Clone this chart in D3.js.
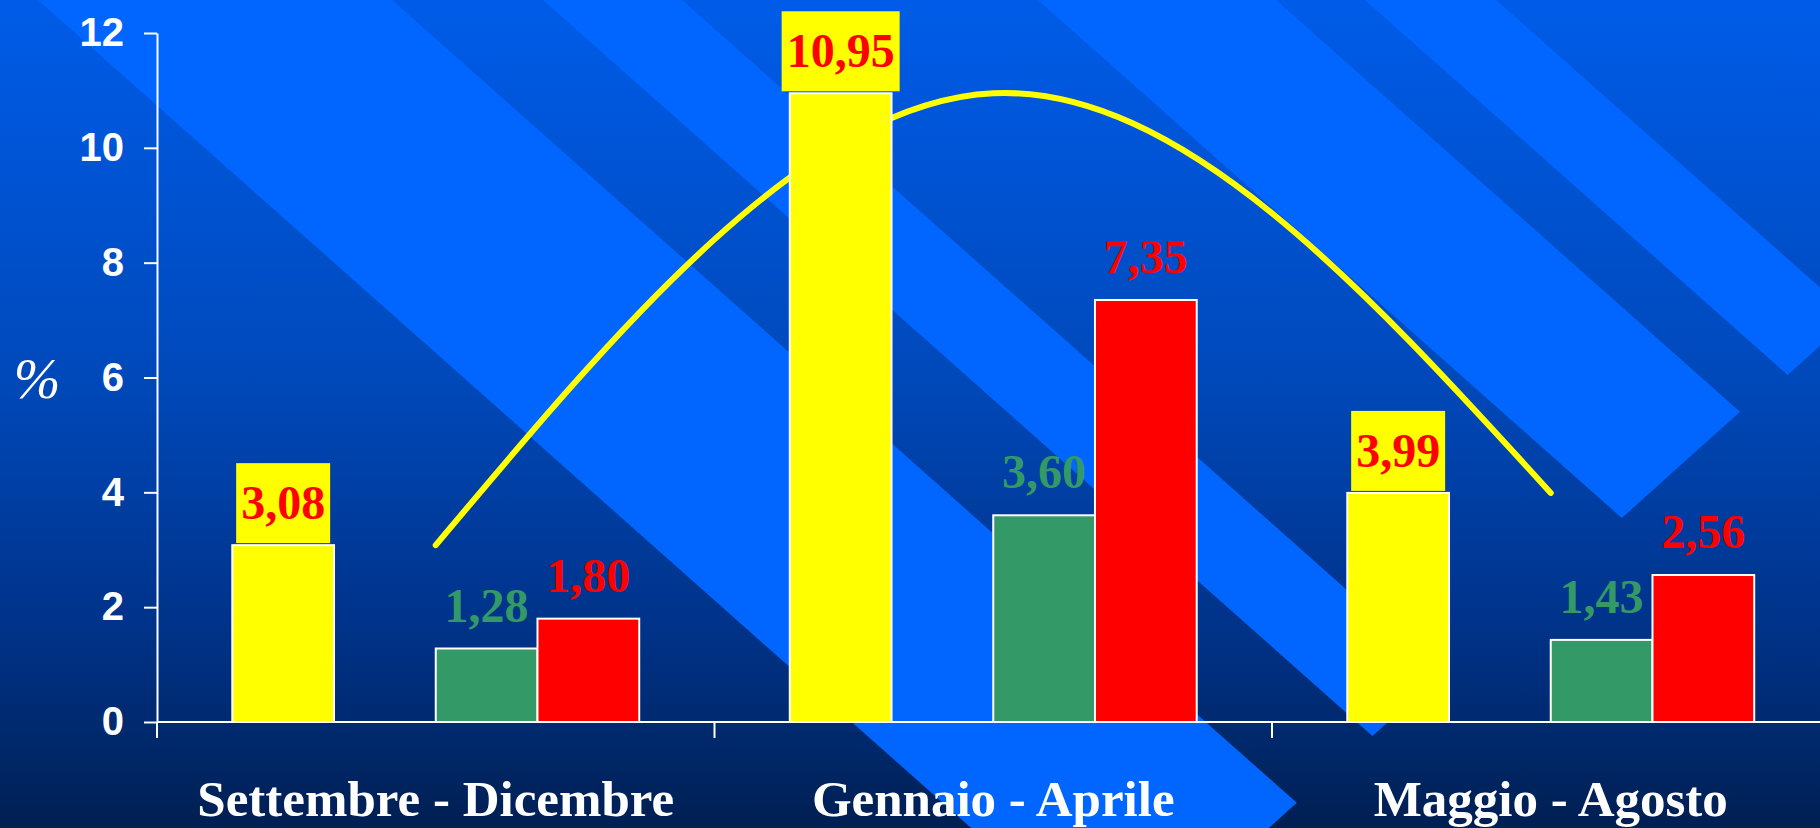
<!DOCTYPE html>
<html>
<head>
<meta charset="utf-8">
<script src="https://cdn.jsdelivr.net/npm/d3@7"></script>
<style>
  html, body { margin: 0; padding: 0; background: #003a96; }
  svg { display: block; }
</style>
</head>
<body>
<svg id="chart" width="1820" height="828"></svg>
<script>
const categories = ["Settembre - Dicembre", "Gennaio - Aprile", "Maggio - Agosto"]
const yellowValues = [3.08, 10.95, 3.99]
const greenValues = [1.28, 3.60, 1.43]
const redValues = [1.80, 7.35, 2.56]
const yTicks = [0, 2, 4, 6, 8, 10, 12]
const slots = ["yellow", "gap", "green", "red"]

// background stripes: x where each stripe meets the top edge, and y of its lowest corner
const stripes = [[38, 392, 961], [543, 682, 736], [1038, 1276, 518], [1365, 1496, 375]]

const W = 1820, H = 828
const svg = d3.select("#chart")

const comma = d3.formatLocale({decimal: ",", thousands: ".", grouping: [3], currency: ["", ""]}).format(".2f")

const x = d3.scaleBand().domain(categories).range([157, 157 + 3 * 557.5]).padding(0)
const sub = d3.scaleBand().domain(slots).range([0, x.bandwidth()]).paddingInner(0).paddingOuter(0.74)
const y = d3.scaleLinear().domain([0, 12]).range([722, 33])

// background
const defs = svg.append("defs")
const grad = defs.append("linearGradient").attr("id", "bg").attr("x1", 0).attr("y1", 0).attr("x2", 0).attr("y2", 1)
grad.selectAll("stop")
    .data([[0, "#005ce8"], [0.45, "#0049bb"], [0.75, "#00338a"], [0.9, "#00286a"], [1, "#001f52"]])
    .enter().append("stop")
    .attr("offset", d => d[0])
    .attr("stop-color", d => d[1])

svg.append("rect").attr("width", W).attr("height", H).attr("fill", "url(#bg)")

const s = 1.127, c = 0.9
svg.append("g").selectAll("polygon")
    .data(stripes)
    .enter().append("polygon")
    .attr("fill", "#0066ff")
    .attr("points", ([x0, x1, yt]) => {
        const xt = x0 + s * yt
        const u = (x1 - x0) / (1 + s * c)
        return [[x0 - s * 20, -20], [x1 - s * 20, -20], [xt + u, yt - c * u], [xt, yt]].map(p => p.join(",")).join(" ")
    })

// y axis
const yAxis = svg.append("g")
    .attr("transform", "translate(157,0)")
    .call(d3.axisLeft(y).tickValues(yTicks).tickFormat(d3.format("d")).tickSize(13).tickSizeOuter(0).tickPadding(20))
yAxis.select(".domain").attr("stroke", "#fff").attr("stroke-width", 2)
yAxis.selectAll(".tick line").attr("stroke", "#fff").attr("stroke-width", 2)
yAxis.selectAll(".tick text")
    .attr("fill", "#fff")
    .attr("font-family", "'Liberation Sans', Arial, sans-serif")
    .attr("font-weight", "bold")
    .attr("font-size", 40)

svg.append("text")
    .attr("x", 37).attr("y", 398)
    .attr("text-anchor", "middle")
    .attr("fill", "#fff")
    .attr("font-family", "'Liberation Serif', 'Times New Roman', serif")
    .attr("font-style", "italic")
    .attr("font-size", 56)
    .text("%")

// trend curve through the yellow values (drawn behind the bars)
const line = d3.line()
    .x((d, i) => x(categories[i]) + sub("green"))
    .y(d => y(d))
    .curve(d3.curveNatural)

svg.append("path")
    .datum(yellowValues)
    .attr("d", line)
    .attr("fill", "none")
    .attr("stroke", "#ffff00")
    .attr("stroke-width", 6)
    .attr("stroke-linecap", "round")

// bars
const series = [
    {key: "yellow", values: yellowValues, color: "#ffff00"},
    {key: "green", values: greenValues, color: "#339966"},
    {key: "red", values: redValues, color: "#ff0000"}
]
const bars = []
series.forEach(sr => sr.values.forEach((v, i) => bars.push({key: sr.key, cat: categories[i], value: v, color: sr.color})))

const serif = "'Liberation Serif', 'Times New Roman', serif"

svg.append("g").selectAll("rect")
    .data(bars)
    .enter().append("rect")
    .attr("x", d => x(d.cat) + sub(d.key))
    .attr("y", d => y(d.value))
    .attr("width", sub.bandwidth())
    .attr("height", d => y(0) - y(d.value))
    .attr("fill", d => d.color)
    .attr("stroke", "#fff")
    .attr("stroke-width", 2)

// x axis
svg.append("line")
    .attr("x1", 157).attr("x2", W).attr("y1", y(0)).attr("y2", y(0))
    .attr("stroke", "#fff").attr("stroke-width", 2)

svg.append("g").selectAll("line")
    .data(categories)
    .enter().append("line")
    .attr("x1", d => x(d)).attr("x2", d => x(d))
    .attr("y1", y(0)).attr("y2", y(0) + 16)
    .attr("stroke", "#fff").attr("stroke-width", 2)

svg.append("g").selectAll("text")
    .data(categories)
    .enter().append("text")
    .attr("x", d => x(d) + x.bandwidth() / 2)
    .attr("y", 816)
    .attr("text-anchor", "middle")
    .attr("fill", "#fff")
    .attr("font-family", serif)
    .attr("font-weight", "bold")
    .attr("font-size", 51)
    .text(d => d)

// value labels
const labels = svg.append("g")
bars.forEach(d => {
    const cx = x(d.cat) + sub(d.key) + sub.bandwidth() / 2
    const top = y(d.value)
    if (d.key === "yellow") {
        const g = labels.append("g")
        const box = g.append("rect").attr("fill", "#ffff00")
        const t = g.append("text")
            .attr("x", cx).attr("y", top - 26)
            .attr("text-anchor", "middle")
            .attr("fill", "#ff0000")
            .attr("font-family", serif)
            .attr("font-weight", "bold")
            .attr("font-size", 48)
            .text(comma(d.value))
        const w = t.node().getComputedTextLength() + 10
        box.attr("x", cx - w / 2).attr("y", top - 82).attr("width", w).attr("height", 80)
    } else {
        labels.append("text")
            .attr("x", cx).attr("y", top - 27)
            .attr("text-anchor", "middle")
            .attr("fill", d.key === "green" ? "#339966" : "#ff0000")
            .attr("font-family", serif)
            .attr("font-weight", "bold")
            .attr("font-size", 48)
            .text(comma(d.value))
    }
})
</script>
</body>
</html>
